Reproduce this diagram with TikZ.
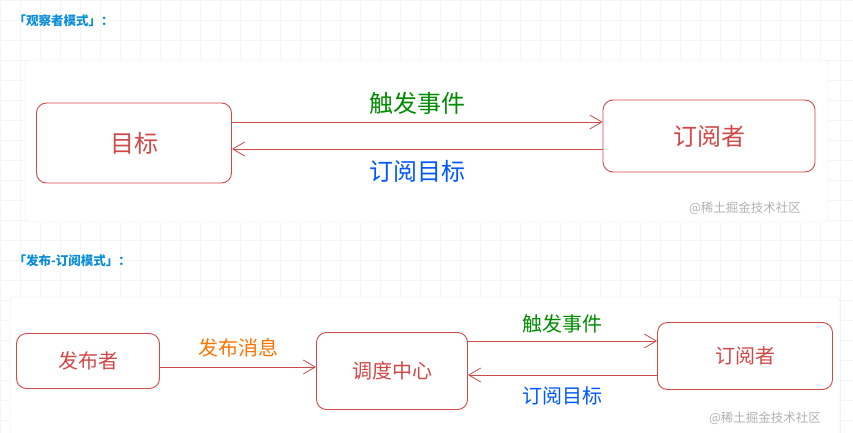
\documentclass[tikz,border=0pt]{standalone}
\usepackage{fontspec}
\setmainfont{Noto Sans CJK SC}
\usetikzlibrary{arrows.meta,calc}
\definecolor{inkred}{HTML}{D04848}
\tikzstyle{card}=[fill=white,draw=black!10,rounded corners=4pt]
\tikzstyle{role}=[draw=inkred,line width=0.9pt,rounded corners=10pt,text=inkred,inner sep=0pt]
\tikzstyle{flow}=[draw=inkred,line width=0.8pt,-{Straight Barb[length=12pt,width=14pt]}]
\tikzstyle{heading}=[anchor=west,text=cyan!75!blue,font=\bfseries\fontsize{12.5}{14}\selectfont]
\tikzstyle{watermark}=[text=black!30,font=\fontsize{12.5}{14}\selectfont]
\newcommand{\grid}{
  \foreach \i in {0,20,...,840} {
    \draw[black!4] (\i,0) -- (\i,433);
  }
  \foreach \i in {0,20,...,420} {
    \draw[black!4] (0,\i) -- (853,\i);
  }
}
\begin{document}
\begin{tikzpicture}[x=1pt,y=-1pt]
	\useasboundingbox (0,0) rectangle (853,433);
	\grid
	% observer pattern
	\node[heading] (h1) at (10,21) {「观察者模式」：};
	\draw[card] (25,60) rectangle (828,222);
	\node[role,minimum width=195pt,minimum height=80pt,font=\fontsize{24}{28}\selectfont] (target) at (134,143) {目标};
	\node[role,minimum width=212pt,minimum height=72pt,font=\fontsize{24}{28}\selectfont] (sub) at (709,136) {订阅者};
	\draw[flow] (target.east |- 0,122) -- (sub.west |- 0,122) node[midway,above=4pt,text=green!55!black,font=\fontsize{24}{28}\selectfont] (fire) {触发事件};
	\draw[flow] (sub.west |- 0,149) -- (target.east |- 0,149) node[midway,below=8pt,text=blue!65!cyan,font=\fontsize{24}{28}\selectfont] (subs) {订阅目标};
	\node[watermark] (wm1) at (745,208) {@稀土掘金技术社区};
	% publish-subscribe pattern
	\node[heading] (h2) at (10,261) {「发布-订阅模式」：};
	\draw[card] (10,297) rectangle (840,440);
	\node[role,minimum width=143pt,minimum height=55pt,font=\fontsize{20}{24}\selectfont] (pub) at (88,361) {发布者};
	\node[role,minimum width=151pt,minimum height=77pt,font=\fontsize{20}{24}\selectfont] (broker) at (392,371) {调度中心};
	\node[role,minimum width=175pt,minimum height=67pt,font=\fontsize{20}{24}\selectfont] (sub2) at (745,356) {订阅者};
	\draw[flow] (pub.east |- 0,367) -- (broker.west |- 0,367) node[midway,above=6pt,text=orange!90!red,font=\fontsize{20}{24}\selectfont] (post) {发布消息};
	\draw[flow] (broker.east |- 0,341) -- (sub2.west |- 0,341) node[midway,above=4pt,text=green!55!black,font=\fontsize{20}{24}\selectfont] (fire2) {触发事件};
	\draw[flow] (sub2.west |- 0,375) -- (broker.east |- 0,375) node[midway,below=8pt,text=blue!65!cyan,font=\fontsize{20}{24}\selectfont] (subs2) {订阅目标};
	\node[watermark] (wm2) at (765,418) {@稀土掘金技术社区};
\end{tikzpicture}
\end{document}
